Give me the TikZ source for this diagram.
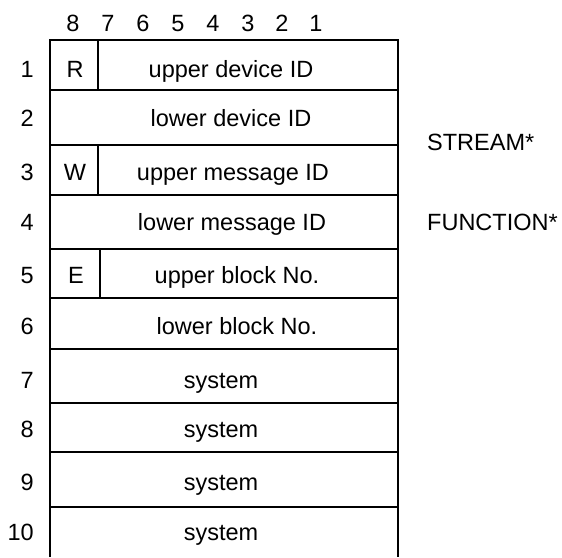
\documentclass[tikz,border=0pt]{standalone}
\usepackage{fontspec}
\setmainfont{Liberation Sans}
\begin{document}
\begin{tikzpicture}[x=1pt,y=-1pt,
  grid/.style={line width=2pt},
  every node/.style={font=\fontsize{23.5}{28}\selectfont, inner sep=0pt},
  lbl/.style={anchor=base},
  num/.style={anchor=base east},
  side/.style={anchor=base west}]
\useasboundingbox (0,0) rectangle (562,557);
\fill[white] (0,0) rectangle (562,557);
% outer frame (open at bottom edge of picture)
\draw[grid] (50,557) -- (50,40) -- (398,40) -- (398,557);
% row separators
\foreach \yy in {90,145,195,249,298,349,403,452,507}
  \draw[grid] (50,\yy) -- (398,\yy);
% flag dividers
\draw[grid] (98,40) -- (98,90);
\draw[grid] (98,145) -- (98,195);
\draw[grid] (100,249) -- (100,298);
% column bit numbers
\foreach \xx/\t in {73/8,108/7,143/6,178/5,213/4,248/3,282/2,316/1}
  \node[lbl] (b\t) at (\xx,31) {\t};
% row numbers
\foreach \yy/\t in {77/1,126/2,180/3,230/4,283/5,334/6,388/7,437/8,490/9,540/10}
  \node[num] (r\t) at (34,\yy) {\t};
% cell contents
\node[lbl] (fR) at (75,77) {R};
\node[lbl] (c1) at (231,77) {upper device ID};
\node[lbl] (c2) at (231,126) {lower device ID};
\node[lbl] (fW) at (75,180) {W};
\node[lbl] (c3) at (233,180) {upper message ID};
\node[lbl] (c4) at (232,230) {lower message ID};
\node[lbl] (fE) at (76,283) {E};
\node[lbl] (c5) at (237,283) {upper block No.};
\node[lbl] (c6) at (237,334) {lower block No.};
\node[lbl] (c7) at (221,388) {system};
\node[lbl] (c8) at (221,437) {system};
\node[lbl] (c9) at (221,490) {system};
\node[lbl] (c10) at (221,540) {system};
% side labels
\node[side] (stream) at (427,150) {STREAM*};
\node[side] (function) at (427,230) {FUNCTION*};
\end{tikzpicture}
\end{document}
